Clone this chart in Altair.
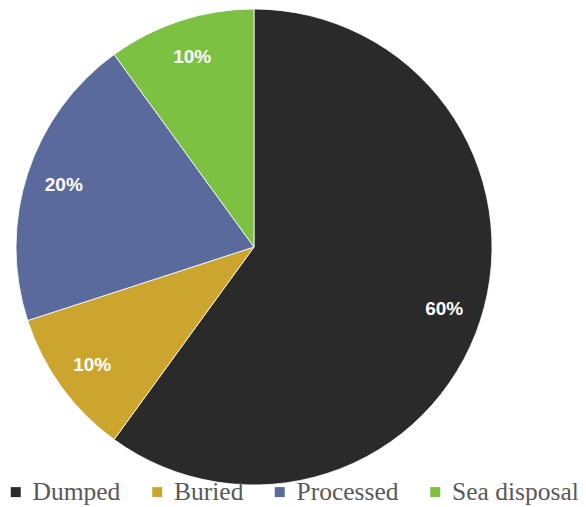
import altair as alt
import pandas as pd

categories = ["Dumped", "Buried", "Processed", "Sea disposal"]
values = [60, 10, 20, 10]
labels = ["60%", "10%", "20%", "10%"]
colors = ["#2a2a2a", "#cca52e", "#5a6a9c", "#7dc142"]

df = pd.DataFrame({"category": categories, "value": values,
                   "label": labels, "order": list(range(len(categories)))})

base = alt.Chart(df).encode(
    theta=alt.Theta("value:Q", stack=True),
    order=alt.Order("order:Q"),
    x=alt.value(246), y=alt.value(239),
)

arcs = base.mark_arc(outerRadius=238, stroke="white", strokeWidth=0.8).encode(
    color=alt.Color("category:N", sort=categories,
                    scale=alt.Scale(domain=categories, range=colors),
                    legend=alt.Legend(title=None, orient="none", direction="horizontal",
                                      legendX=-5, legendY=471,
                                      symbolType="square", symbolSize=100,
                                      symbolStrokeWidth=0,
                                      labelFont="Liberation Serif", labelFontSize=25.5,
                                      labelColor="#595959", columnPadding=23.5,
                                      labelLimit=300, symbolOffset=0, labelOffset=4))
)

text = base.mark_text(font="Liberation Sans", fontSize=19, fontWeight="bold",
                      color="white", align="center", baseline="middle").encode(
    text="label:N", radius=alt.value(200)
)

chart = alt.layer(arcs, text).properties(
    width=570, height=499, autosize=alt.AutoSizeParams(type="none"), padding=0
).configure_view(stroke=None)

chart.save("out.html", embed_options={"renderer": "svg", "actions": False})
